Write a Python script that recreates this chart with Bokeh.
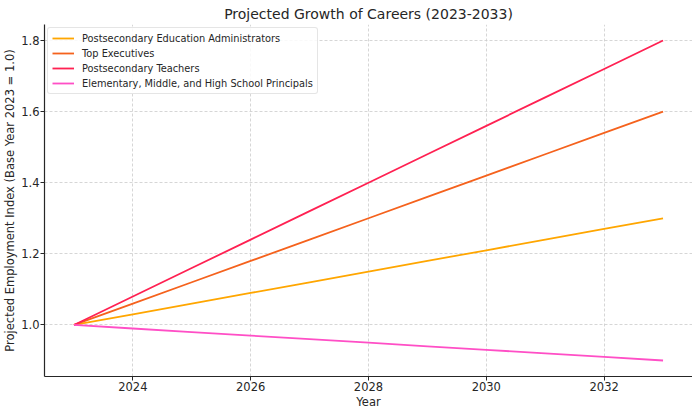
from bokeh.plotting import figure
from bokeh.models import Range1d, FixedTicker, Legend, LegendItem, CustomJSTickFormatter
from bokeh.embed import file_html
from bokeh.resources import INLINE

years = [2023, 2024, 2025, 2026, 2027, 2028, 2029, 2030, 2031, 2032, 2033]
admins = [1.00, 1.03, 1.06, 1.09, 1.12, 1.15, 1.18, 1.21, 1.24, 1.27, 1.30]
executives = [1.00, 1.06, 1.12, 1.18, 1.24, 1.30, 1.36, 1.42, 1.48, 1.54, 1.60]
teachers = [1.00, 1.08, 1.16, 1.24, 1.32, 1.40, 1.48, 1.56, 1.64, 1.72, 1.80]
principals = [1.00, 0.99, 0.98, 0.97, 0.96, 0.95, 0.94, 0.93, 0.92, 0.91, 0.90]

names = ["Postsecondary Education Administrators", "Top Executives",
         "Postsecondary Teachers", "Elementary, Middle, and High School Principals"]
series = [admins, executives, teachers, principals]
colors = ["#FFA600", "#F5621D", "#FF2152", "#FF4FC6"]

x_ticks = [2024, 2026, 2028, 2030, 2032]
y_ticks = [1.0, 1.2, 1.4, 1.6, 1.8]

FONT = "DejaVu Sans"
TXT = "#262626"

p = figure(frame_width=648, frame_height=352, output_backend="svg", toolbar_location=None,
           x_range=Range1d(2022.5, 2033.5), y_range=Range1d(0.855, 1.845),
           min_border_left=0, min_border_right=0, min_border_top=0, min_border_bottom=0)

items = []
for name, vals, c in zip(names, series, colors):
    r = p.line(years, vals, line_color=c, line_width=1.8)
    items.append(LegendItem(label=name, renderers=[r]))

legend = Legend(items=items, location="top_left")
legend.label_text_font = FONT
legend.label_text_font_size = "9.8px"
legend.label_text_color = TXT
legend.glyph_width = 22
legend.glyph_height = 12
legend.label_height = 12
legend.spacing = 3
legend.padding = 4
legend.margin = 3
legend.label_standoff = 8
legend.border_line_color = "#cccccc"
legend.border_line_width = 1
legend.background_fill_alpha = 0.85
legend.border_radius = 3
p.add_layout(legend)

p.title.text = "Projected Growth of Careers (2023-2033)"
p.title.text_font = FONT
p.title.text_font_size = "14px"
p.title.text_font_style = "normal"
p.title.text_color = TXT
p.title.align = "center"
p.title.offset = 0
p.title.standoff = 6

p.xaxis.axis_label = "Year"
p.yaxis.axis_label = "Projected Employment Index (Base Year 2023 = 1.0)"
p.xaxis.ticker = FixedTicker(ticks=x_ticks)
p.yaxis.ticker = FixedTicker(ticks=y_ticks)
p.yaxis.formatter = CustomJSTickFormatter(code="return tick.toFixed(1);")

for ax in (p.xaxis, p.yaxis):
    ax.axis_label_text_font = FONT
    ax.axis_label_text_font_size = "11.5px"
    ax.axis_label_text_font_style = "normal"
    ax.axis_label_text_color = TXT
    ax.major_label_text_font = FONT
    ax.major_label_text_font_size = "11.5px"
    ax.major_label_text_color = TXT
    ax.axis_line_color = TXT
    ax.axis_line_width = 1.2
    ax.major_tick_line_color = TXT
    ax.major_tick_out = 4
    ax.major_tick_in = 0
    ax.minor_tick_line_color = None
    ax.major_label_standoff = 1
    ax.axis_label_standoff = 1

for g in (p.xgrid, p.ygrid):
    g.grid_line_color = "#cccccc"
    g.grid_line_dash = "3 2"
    g.grid_line_width = 0.8

p.outline_line_color = None

open("out.html", "w").write(file_html(p, INLINE))
